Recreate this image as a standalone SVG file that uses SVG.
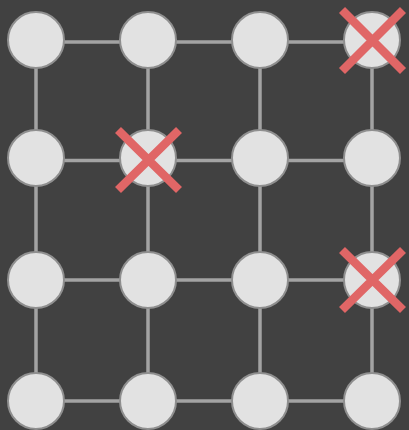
<svg xmlns="http://www.w3.org/2000/svg" width="409" height="430" viewBox="0 0 409 430">
<style>
.edge{stroke:#a3a3a3;stroke-width:3.5;fill:none}
.node circle{fill:#e2e2e2;stroke:#8f8f8f;stroke-width:2}
.x{stroke:#e06666;stroke-width:8.5;stroke-linecap:butt}
</style>
<rect width="409" height="430" fill="#414141"/>
<g id="connectors">
<line class="edge" x1="36" y1="42" x2="372" y2="42"/>
<line class="edge" x1="36" y1="160.5" x2="372" y2="160.5"/>
<line class="edge" x1="36" y1="280" x2="372" y2="280"/>
<line class="edge" x1="36" y1="401" x2="372" y2="401"/>
<line class="edge" x1="36" y1="40" x2="36" y2="401"/>
<line class="edge" x1="148" y1="40" x2="148" y2="401"/>
<line class="edge" x1="260" y1="40" x2="260" y2="401"/>
<line class="edge" x1="372" y1="40" x2="372" y2="401"/>
</g>
<g id="n11" class="node"><circle cx="36" cy="40" r="28"/></g>
<g id="n12" class="node"><circle cx="148" cy="40" r="28"/></g>
<g id="n13" class="node"><circle cx="260" cy="40" r="28"/></g>
<g id="n14" class="node"><circle cx="372" cy="40" r="28"/><path class="x" d="M342 10L403 71M403 10L342 71"/></g>
<g id="n21" class="node"><circle cx="36" cy="158" r="28"/></g>
<g id="n22" class="node"><circle cx="148" cy="158" r="28"/><path class="x" d="M118 130L179 190M179 130L118 190"/></g>
<g id="n23" class="node"><circle cx="260" cy="158" r="28"/></g>
<g id="n24" class="node"><circle cx="372" cy="158" r="28"/></g>
<g id="n31" class="node"><circle cx="36" cy="280" r="28"/></g>
<g id="n32" class="node"><circle cx="148" cy="280" r="28"/></g>
<g id="n33" class="node"><circle cx="260" cy="280" r="28"/></g>
<g id="n34" class="node"><circle cx="372" cy="280" r="28"/><path class="x" d="M342 250L403 310M403 250L342 310"/></g>
<g id="n41" class="node"><circle cx="36" cy="401" r="28"/></g>
<g id="n42" class="node"><circle cx="148" cy="401" r="28"/></g>
<g id="n43" class="node"><circle cx="260" cy="401" r="28"/></g>
<g id="n44" class="node"><circle cx="372" cy="401" r="28"/></g>
</svg>
